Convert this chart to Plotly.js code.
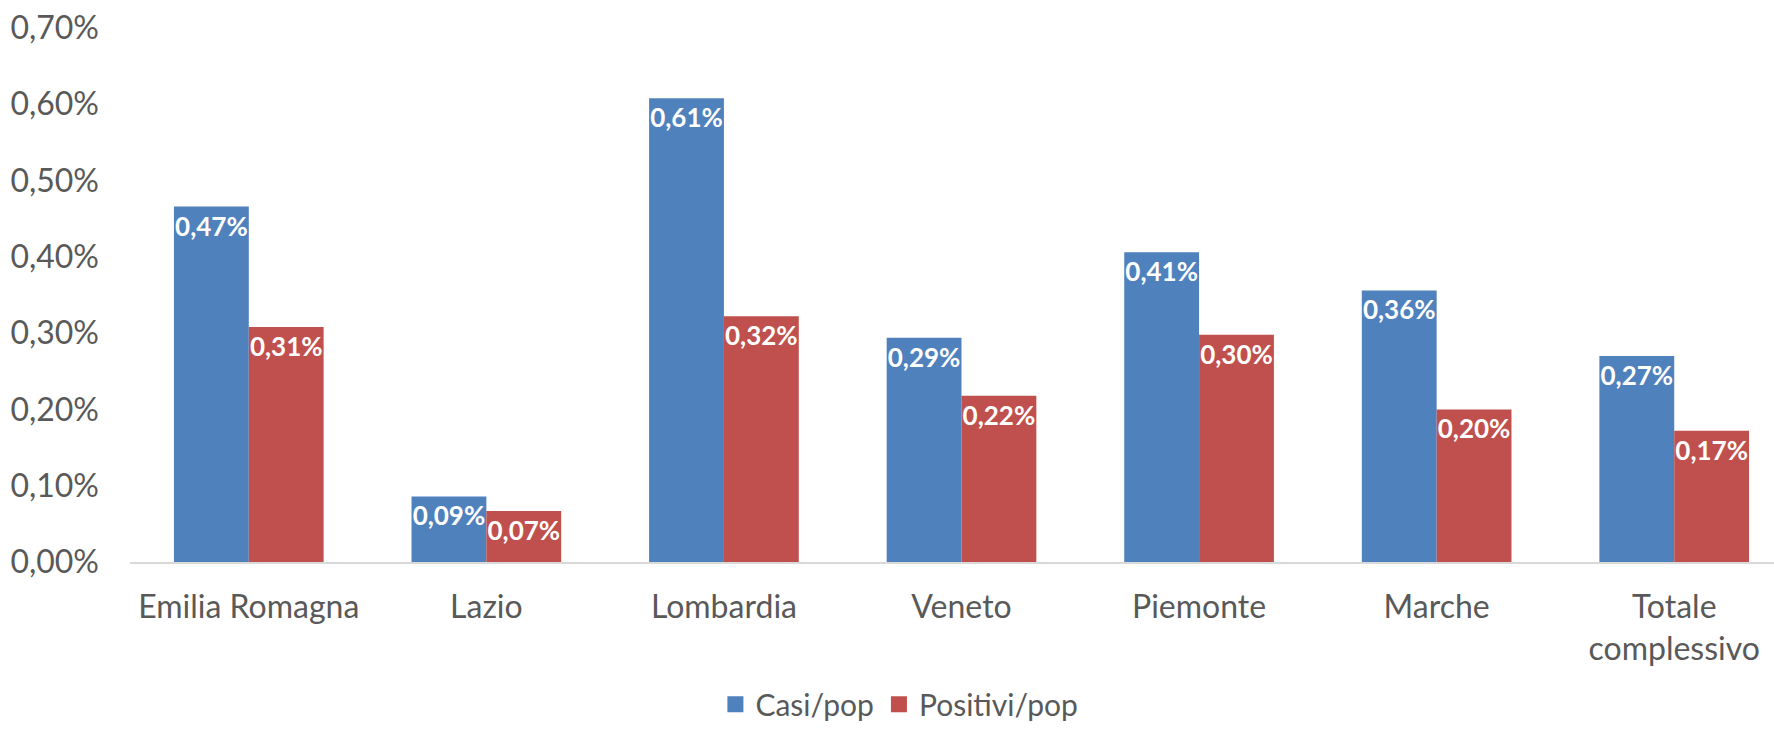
<!DOCTYPE html>
<html>
<head>
<meta charset="utf-8">
<script src="https://cdn.plot.ly/plotly-3.0.1.min.js"></script>
<style>html,body{margin:0;padding:0;background:#fff;}#chart{width:1774px;height:729px;}</style>
</head>
<body>
<div id="chart"></div>
<script>
const categories = ["Emilia Romagna", "Lazio", "Lombardia", "Veneto", "Piemonte", "Marche", "Totale<br>complessivo"];
const casiPop = [0.466, 0.086, 0.608, 0.294, 0.406, 0.356, 0.270];
const positiviPop = [0.308, 0.067, 0.322, 0.218, 0.298, 0.200, 0.172];
const seriesNames = ["Casi/pop", "Positivi/pop"];
const seriesColors = ["#4f81bd", "#c0504d"];
const yTicks = [0, 0.1, 0.2, 0.3, 0.4, 0.5, 0.6, 0.7];
const yTickText = yTicks.map(v => v.toFixed(2).replace(".", ",") + "%");

const FONT = "Lato, 'Open Sans', sans-serif";
const labelFont = {family: FONT, size: 26, color: "#ffffff", weight: "bold"};

function barTrace(name, values, color) {
  return {
    type: "bar",
    name: name,
    x: categories,
    y: values,
    marker: {color: color, line: {width: 0}},
    texttemplate: "<b>%{y:.2f}%</b>",
    textposition: "inside",
    insidetextanchor: "end",
    textangle: 0,
    constraintext: "none",
    insidetextfont: labelFont,
    showlegend: false,
    hoverinfo: "skip"
  };
}

function legendTrace(name, color) {
  return {
    type: "scatter",
    mode: "markers",
    name: name,
    x: [categories[0]],
    y: [null],
    marker: {symbol: "square", size: 19, color: color},
    showlegend: true,
    hoverinfo: "skip"
  };
}

const data = [
  barTrace(seriesNames[0], casiPop, seriesColors[0]),
  barTrace(seriesNames[1], positiviPop, seriesColors[1]),
  legendTrace(seriesNames[0], seriesColors[0]),
  legendTrace(seriesNames[1], seriesColors[1])
];

const layout = {
  width: 1774,
  height: 729,
  margin: {l: 130, r: 0, t: 28, b: 167},
  paper_bgcolor: "#ffffff",
  plot_bgcolor: "#ffffff",
  separators: ",.",
  barmode: "group",
  bargap: 0.37,
  bargroupgap: 0,
  font: {family: FONT, color: "#595959", size: 32},
  showlegend: true,
  legend: {
    orientation: "h",
    xref: "container", yref: "container",
    x: 0.507, xanchor: "center",
    y: 0.034, yanchor: "middle",
    font: {family: FONT, size: 30, color: "#595959"},
    itemsizing: "trace",
    itemwidth: 30,
    tracegroupgap: 0
  },
  xaxis: {
    type: "category",
    range: [-0.5, 6.42],
    showline: true,
    linecolor: "#d9d9d9",
    linewidth: 2,
    showgrid: false,
    zeroline: false,
    ticks: "",
    ticklabelstandoff: 16,
    tickfont: {family: FONT, size: 32, color: "#595959"},
    fixedrange: true
  },
  yaxis: {
    range: [0, 0.70],
    tickmode: "array",
    tickvals: yTicks,
    ticktext: yTickText,
    showline: false,
    showgrid: false,
    zeroline: false,
    ticks: "",
    ticklabelstandoff: 30,
    tickfont: {family: FONT, size: 32, color: "#595959"},
    fixedrange: true
  }
};

Plotly.newPlot("chart", data, layout, {displayModeBar: false, staticPlot: true});
</script>
</body>
</html>
